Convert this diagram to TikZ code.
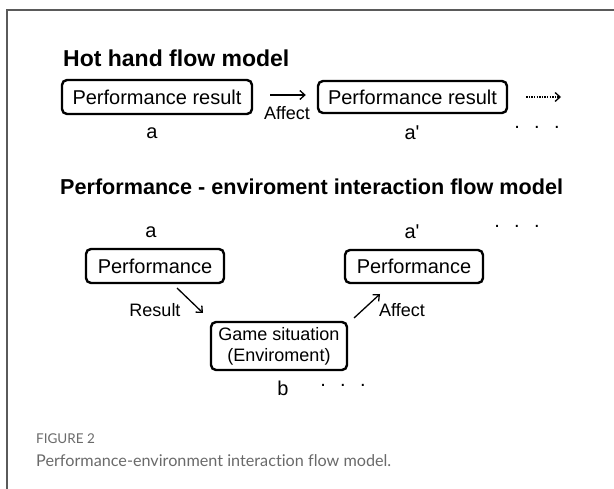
\documentclass[tikz,border=0pt]{standalone}
\usepackage{fontspec}
\setmainfont{Liberation Sans}
\newfontfamily\capfont[Ligatures=NoCommon]{Lato}
\usetikzlibrary{arrows.meta}
\definecolor{framegray}{HTML}{5A5A5A}
\definecolor{capgray}{HTML}{6A6A6A}
\tikzset{
  pbox/.style={draw, line width=2.4pt, rounded corners=5pt, inner sep=0pt,
    font=\fontsize{20}{23}\selectfont, align=center},
  title/.style={anchor=base west, inner sep=0pt},
  lbl/.style={inner sep=0pt, font=\fontsize{20}{24}\selectfont},
  small/.style={inner sep=0pt, font=\fontsize{18}{22}\selectfont},
  flow/.style={line width=1.3pt, -{Straight Barb[length=5pt,width=9pt,line width=1.3pt]}},
  dotflow/.style={line width=1.3pt, dash pattern=on 1.3pt off 1.3pt, -{Straight Barb[length=5pt,width=9pt,line width=1.3pt]}}
}
\newcommand{\threedots}{.\hspace{14.4pt}.\hspace{14.4pt}.}
\newcommand{\prm}{\textquotesingle}
\begin{document}
\begin{tikzpicture}[x=1pt, y=-1pt]
  \useasboundingbox (0,0) rectangle (614,489);
  % outer frame
  \draw[framegray, line width=1.3pt] (614,10) -- (7,10) -- (7,489);

  % --- hot hand flow model ---
  \node[title, font=\fontsize{23}{27}\selectfont\bfseries] (t1) at (63,67) {Hot hand flow model};
  \node[pbox, minimum width=190pt, minimum height=34pt] (b1) at (157,97) {Performance result};
  \node[pbox, minimum width=189pt, minimum height=32pt] (b2) at (412.5,97) {Performance result};
  \draw[flow, shorten <=17pt, shorten >=11pt] ([yshift=2pt]b1.east) -- ([yshift=2pt]b2.west);
  \node[small] (af1) at (287,113) {Affect};
  \coordinate (d1end) at (561,97);
  \draw[dotflow, shorten <=18pt] (b2.east) -- (d1end);
  \node[lbl] (la) at (152,133) {a};
  \node[lbl] (la2) at (412,133) {a\prm};
  \node[lbl] (dots1) at (537,127) {\threedots};

  % --- performance-environment interaction flow model ---
  \node[title, font=\fontsize{21.6}{26}\selectfont\bfseries] (t2) at (60,195) {Performance - enviroment interaction flow model};
  \node[lbl] (lb) at (151,232) {a};
  \node[lbl] (lb2) at (412,232) {a\prm};
  \node[lbl] (dots2) at (517,226) {\threedots};
  \node[pbox, minimum width=138pt, minimum height=34pt] (p1) at (155,266) {Performance};
  \node[pbox, minimum width=138pt, minimum height=33pt] (p2) at (414,266.5) {Performance};
  \node[pbox, minimum width=136pt, minimum height=48pt, font=\fontsize{18}{21}\selectfont] (g) at (279,346) {Game situation\\(Enviroment)};
  \coordinate (r1) at (177,288);
  \coordinate (r2) at (203,313);
  \draw[flow] (r1) -- (r2);
  \node[small] (res) at (155,310) {Result};
  \coordinate (f1) at (354,318);
  \coordinate (f2) at (380,294);
  \draw[flow] (f1) -- (f2);
  \node[small] (af2) at (402,310) {Affect};
  \node[lbl] (lc) at (283,388) {b};
  \node[lbl] (dots3) at (343,385) {\threedots};

  % caption
  \node[anchor=base west, inner sep=0pt, text=capgray, font=\capfont\fontsize{13.5}{16}\selectfont] (capa) at (36,443) {FIGURE 2};
  \node[anchor=base west, inner sep=0pt, text=capgray, font=\capfont\fontsize{16.2}{20}\selectfont] (capb) at (36,466) {Performance-environment interaction flow model.};
\end{tikzpicture}
\end{document}
